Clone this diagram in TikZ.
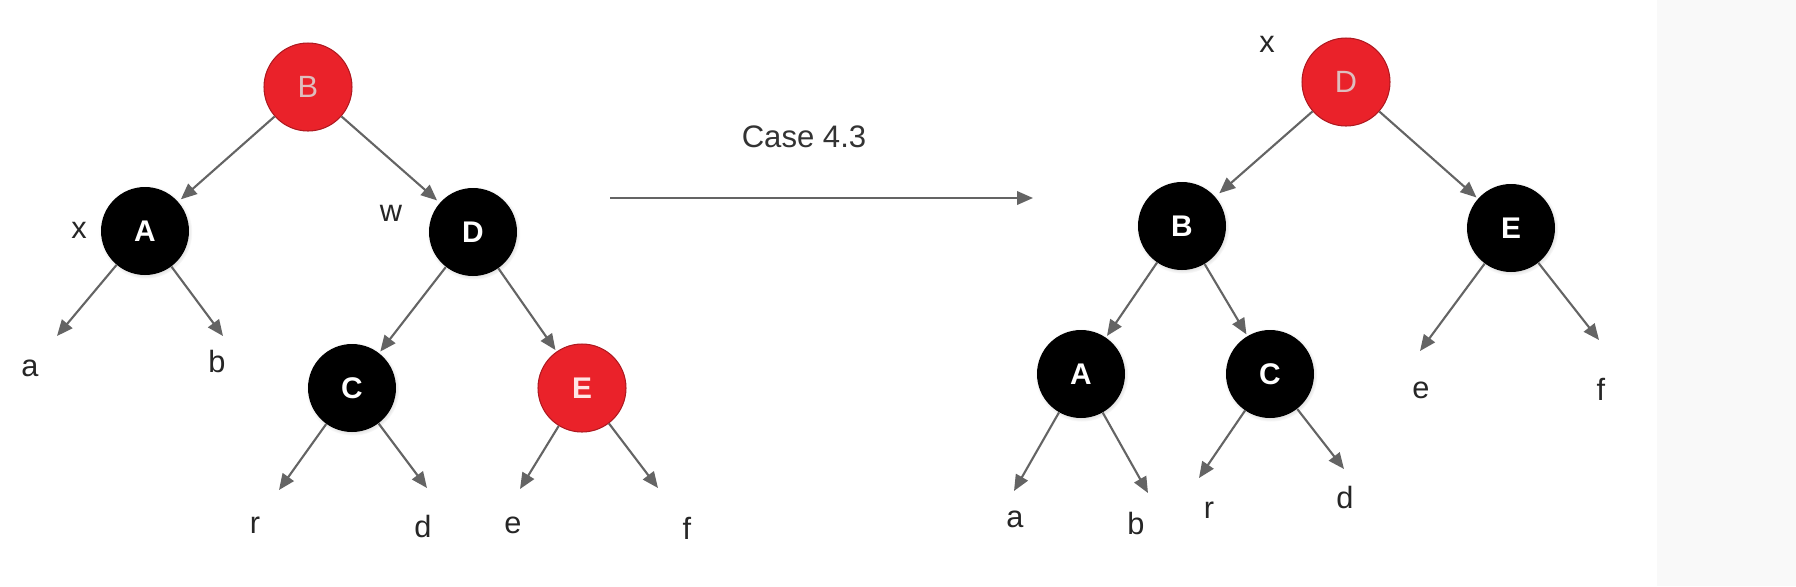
\documentclass[tikz,border=0pt]{standalone}
\usepackage{fontspec}
\setmainfont{Liberation Sans}
\usetikzlibrary{arrows.meta,shadows}
\definecolor{rbred}{RGB}{234,34,42}
\definecolor{redtxt}{RGB}{222,190,190}
\definecolor{edgegray}{RGB}{100,100,100}
\definecolor{panel}{RGB}{249,249,249}

\begin{document}
\begin{tikzpicture}[x=0.02cm, y=-0.02cm,
		nd/.style={circle, minimum size=1.76cm, inner sep=0pt, font=\fontsize{17.5}{20}\selectfont},
		blk/.style={nd, fill=black, text=white, font=\fontsize{17}{20}\selectfont\bfseries,
			circular drop shadow={shadow xshift=0.4pt, shadow yshift=-0.6pt, shadow scale=1.06, opacity=0.35}},
		rd/.style={nd, fill=rbred, draw=rbred!75!black, line width=0.6pt, text=redtxt},
		lbl/.style={font=\fontsize{17.5}{20}\selectfont, inner sep=0pt, text=black!85},
		edge/.style={draw=edgegray, line width=1.2pt, -{Triangle[length=0.32cm, width=0.27cm]}}]
		\useasboundingbox (0,0) rectangle (1796,586);
		\fill[white] (0,0) rectangle (1796,586);
		\fill[panel] (1657,0) rectangle (1796,586);

		% before
		\node[name=lB, rd] at (308,87) {B};
		\node[name=lA, blk] at (145,231) {A};
		\node[name=lD, blk] at (473,232) {D};
		\node[name=lC, blk] at (352,388) {C};
		\node[name=lE, rd, text=white!90!red, font=\fontsize{17}{20}\selectfont\bfseries] at (582,388) {E};
		\node[name=lx, lbl] at (79,230) {x};
		\node[name=lw, lbl] at (391,213) {w};
		\node[name=la, lbl] at (30,368) {a};
		\node[name=lb, lbl] at (217,362) {b};
		\node[name=lr, lbl] at (255,525) {r};
		\node[name=ld, lbl] at (423,526) {d};
		\node[name=le, lbl] at (513,525) {e};
		\node[name=lf, lbl] at (687,528) {f};
		\coordinate (lta) at (57,336);
		\coordinate (ltb) at (223,336);
		\coordinate (ltr) at (279,490);
		\coordinate (ltd) at (427,488);
		\coordinate (lte) at (520,489);
		\coordinate (ltf) at (658,488);
		\draw[edge, shorten >=2pt] (lB) -- (lA);
		\draw[edge, shorten >=2pt] (lB) -- (lD);
		\draw[edge, shorten >=1pt] (lD) -- (lC);
		\draw[edge, shorten >=1pt] (lD) -- (lE);
		\draw[edge] (lA) -- (lta);
		\draw[edge] (lA) -- (ltb);
		\draw[edge] (lC) -- (ltr);
		\draw[edge] (lC) -- (ltd);
		\draw[edge] (lE) -- (lte);
		\draw[edge] (lE) -- (ltf);

		% rotation
		\coordinate (s) at (610,198);
		\coordinate (t) at (1033,198);
		\node[name=case, font=\fontsize{17.7}{20}\selectfont, text=black!80] at (804,137) {Case 4.3};
		\draw[edge] (s) -- (t);

		% after
		\node[name=rD, rd] at (1346,82) {D};
		\node[name=rB, blk] at (1182,226) {B};
		\node[name=rE, blk] at (1511,228) {E};
		\node[name=rA, blk] at (1081,374) {A};
		\node[name=rC, blk] at (1270,374) {C};
		\node[name=rx, lbl] at (1267,44) {x};
		\node[name=ra, lbl] at (1015,519) {a};
		\node[name=rb, lbl] at (1136,523) {b};
		\node[name=rr, lbl] at (1209,510) {r};
		\node[name=rd, lbl] at (1345,497) {d};
		\node[name=re, lbl] at (1421,390) {e};
		\node[name=rf, lbl] at (1601,389) {f};
		\coordinate (rta) at (1014,491);
		\coordinate (rtb) at (1148,493);
		\coordinate (rtr) at (1199,478);
		\coordinate (rtd) at (1344,469);
		\coordinate (rte) at (1420,351);
		\coordinate (rtf) at (1599,340);
		\draw[edge, shorten >=3pt] (rD) -- (rB);
		\draw[edge, shorten >=1pt] (rD) -- (rE);
		\draw[edge, shorten >=1pt] (rB) -- (rA);
		\draw[edge, shorten >=1pt] (rB) -- (rC);
		\draw[edge] (rA) -- (rta);
		\draw[edge] (rA) -- (rtb);
		\draw[edge] (rC) -- (rtr);
		\draw[edge] (rC) -- (rtd);
		\draw[edge] (rE) -- (rte);
		\draw[edge] (rE) -- (rtf);
	\end{tikzpicture}
\end{document}
